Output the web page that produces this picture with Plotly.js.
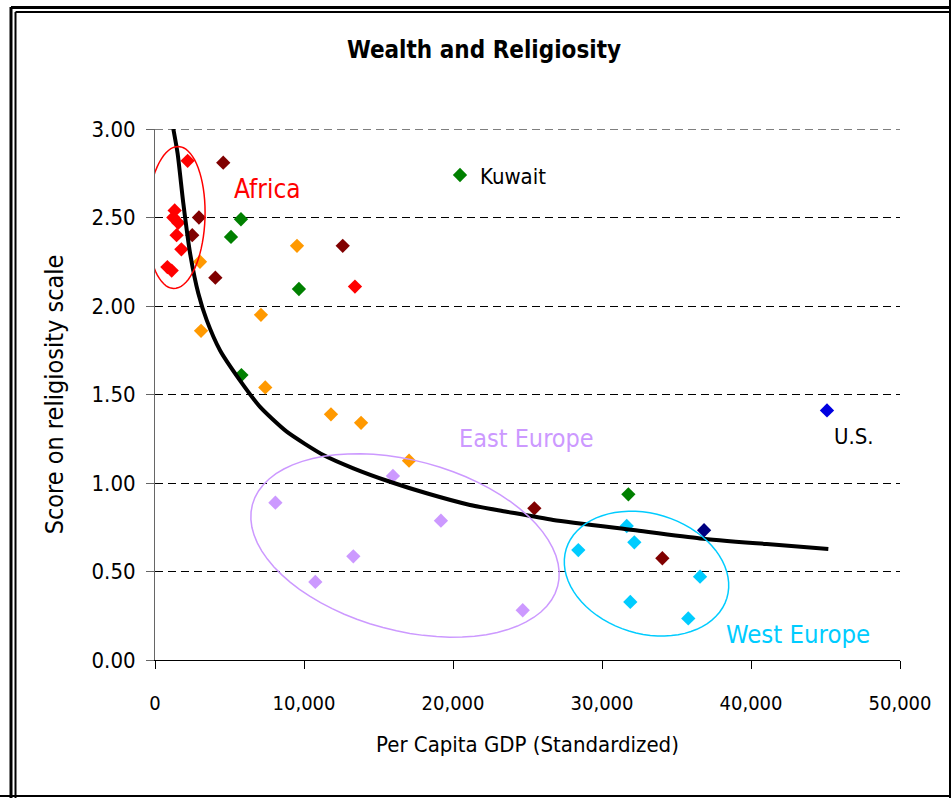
<!DOCTYPE html>
<html>
<head>
<meta charset="utf-8">
<script src="https://cdn.plot.ly/plotly-3.0.1.min.js"></script>
<style>
  html, body { margin: 0; padding: 0; background: #fff; }
  #chart { width: 951px; height: 798px; }
</style>
</head>
<body>
<div id="chart"></div>
<script>
// ---- Data ----
const africaX = [2190, 1320, 1230, 1560, 1450, 1770, 830, 1120, 13420];
const africaY = [2.82, 2.54, 2.50, 2.47, 2.40, 2.32, 2.22, 2.20, 2.11];

const maroonX = [4580, 2950, 2500, 4050, 12600, 25460, 34050];
const maroonY = [2.81, 2.50, 2.40, 2.16, 2.34, 0.857, 0.575];

const greenX = [20470, 5770, 5100, 9660, 5800, 31770];
const greenY = [2.74, 2.49, 2.39, 2.096, 1.61, 0.936];

const orangeX = [3020, 9530, 7110, 3090, 7400, 11810, 13830, 17050];
const orangeY = [2.25, 2.34, 1.95, 1.86, 1.54, 1.388, 1.34, 1.126];

const eastX = [15970, 8080, 19190, 13310, 10760, 24680];
const eastY = [1.04, 0.889, 0.787, 0.586, 0.441, 0.281];

const westX = [31660, 28410, 32170, 36580, 31900, 35790];
const westY = [0.757, 0.621, 0.665, 0.471, 0.328, 0.235];

const navyX = [36850];
const navyY = [0.733];

const usX = [45100];
const usY = [1.41];

// trend line (power curve)
const trendX = [1230, 1520, 1900, 2350, 2910, 3470, 4360, 5700, 7050, 8840, 11300, 13310, 15770, 18230, 21140, 23600, 26730, 32100, 36580, 41050, 45190];
const trendY = [3.0, 2.86, 2.58, 2.30, 2.07, 1.92, 1.75, 1.58, 1.43, 1.29, 1.158, 1.083, 1.007, 0.942, 0.876, 0.838, 0.791, 0.734, 0.687, 0.655, 0.627];

const xTickVals = [0, 10000, 20000, 30000, 40000, 50000];
const xTickText = ['0', '10,000', '20,000', '30,000', '40,000', '50,000'];
const yTickVals = [0, 0.5, 1, 1.5, 2, 2.5, 3];
const yTickText = ['0.00', '0.50', '1.00', '1.50', '2.00', '2.50', '3.00'];

// ---- Styling ----
const FONT = "Tahoma, 'DejaVu Sans Condensed', 'DejaVu Sans', sans-serif";
const W = 951, H = 798;
const L = 155, R = 900, T = 129, B = 660;

function mk(x, y, color) {
  return {
    x: x, y: y, type: 'scatter', mode: 'markers', showlegend: false, hoverinfo: 'skip',
    marker: { symbol: 'diamond', size: 11, color: color, line: { width: 0 } }
  };
}

const traces = [
  mk(africaX, africaY, '#FF0000'),
  mk(maroonX, maroonY, '#800000'),
  mk(greenX, greenY, '#008000'),
  mk(orangeX, orangeY, '#FF9900'),
  mk(eastX, eastY, '#CC99FF'),
  mk(westX, westY, '#00CCFF'),
  mk(navyX, navyY, '#000080'),
  mk(usX, usY, '#0000E0'),
  {
    x: trendX, y: trendY, type: 'scatter', mode: 'lines', showlegend: false, hoverinfo: 'skip',
    line: { color: '#000000', width: 4, shape: 'spline', smoothing: 0.6 }
  }
];

// ellipse path in pixel offsets (y up), a/b semi-axes, deg = clockwise tilt on screen
function ellipsePath(a, b, deg) {
  const th = deg * Math.PI / 180;
  const n = 72;
  let s = '';
  for (let i = 0; i <= n; i++) {
    const t = 2 * Math.PI * i / n;
    const ex = a * Math.cos(t), ey = b * Math.sin(t);
    const dx = ex * Math.cos(th) - ey * Math.sin(th);
    const dyScreen = ex * Math.sin(th) + ey * Math.cos(th);
    s += (i === 0 ? 'M' : 'L') + dx.toFixed(2) + ',' + (-dyScreen).toFixed(2);
  }
  return s + 'Z';
}
function ellipseShape(cx, cy, a, b, deg, color) {
  return {
    type: 'path', xref: 'x', yref: 'y', xsizemode: 'pixel', ysizemode: 'pixel',
    xanchor: cx, yanchor: cy, path: ellipsePath(a, b, deg),
    line: { color: color, width: 1.5 }, layer: 'above'
  };
}
function px2X(px) { return (px - L) / (R - L); }
function px2Y(py) { return (B - py) / (B - T); }
function frameLine(x0, y0, x1, y1, w, c) {
  return { type: 'line', xref: 'paper', yref: 'paper', x0: px2X(x0), y0: px2Y(y0), x1: px2X(x1), y1: px2Y(y1),
           line: { color: c, width: w }, layer: 'above' };
}

const shapes = [
  // top gridline at 3.00 (Plotly drops the grid line on the range edge)
  { type: 'line', xref: 'paper', yref: 'y', x0: 0, x1: 1, y0: 3, y1: 3,
    line: { color: '#000', width: 1, dash: '8px,5px' }, layer: 'below' },
  ellipseShape(1409, 2.50, 29, 71, 2, '#FF0000'),
  ellipseShape(16779, 0.647, 158, 85, 15, '#CC99FF'),
  ellipseShape(32987, 0.488, 84, 60, 17, '#00CCFF'),
  // frame
  frameLine(11, 7, 11, 798, 3, '#000'),
  frameLine(11, 7.5, 951, 7.5, 3, '#000'),
  frameLine(15.5, 12, 15.5, 798, 2, '#000'),
  frameLine(15.5, 12, 951, 12, 2, '#000'),
  frameLine(950, 0, 950, 798, 2, '#000'),
  frameLine(0, 796, 951, 796, 2, '#000')
];

const annotations = [
  { x: 7517, y: 2.66, xref: 'x', yref: 'y', text: 'Africa', showarrow: false, xanchor: 'center', yanchor: 'middle',
    font: { family: FONT, size: 26, color: '#FF0000' } },
  { x: 24899, y: 1.254, xref: 'x', yref: 'y', text: 'East Europe', showarrow: false, xanchor: 'center', yanchor: 'middle',
    font: { family: FONT, size: 25, color: '#CC99FF' } },
  { x: 43154, y: 0.147, xref: 'x', yref: 'y', text: 'West Europe', showarrow: false, xanchor: 'center', yanchor: 'middle',
    font: { family: FONT, size: 25.5, color: '#00CCFF' } },
  { x: 21678, y: 2.734, xref: 'x', yref: 'y', text: 'Kuwait', showarrow: false, xanchor: 'left', yanchor: 'middle',
    font: { family: FONT, size: 22, color: '#000' } },
  { x: 46913, y: 1.26, xref: 'x', yref: 'y', text: 'U.S.', showarrow: false, xanchor: 'center', yanchor: 'middle',
    font: { family: FONT, size: 22, color: '#000' } }
];

const layout = {
  width: W, height: H,
  margin: { l: L, r: W - R, t: T, b: H - B, pad: 0 },
  paper_bgcolor: '#ffffff', plot_bgcolor: '#ffffff',
  font: { family: FONT, size: 20, color: '#000' },
  title: { text: '<b>Wealth and Religiosity</b>', x: 484 / W, xref: 'container', xanchor: 'center',
           y: 1 - 50 / H, yref: 'container', yanchor: 'middle', font: { family: FONT, size: 24, color: '#000' } },
  xaxis: {
    range: [0, 50000], tickvals: xTickVals, ticktext: xTickText,
    showgrid: false, zeroline: false, showline: true, linecolor: '#000', linewidth: 1,
    ticks: 'outside', ticklen: 8, tickcolor: '#000', tickwidth: 1, ticklabelstandoff: 17,
    tickfont: { family: FONT, size: 20, color: '#000' },
    title: { text: 'Per Capita GDP (Standardized)', standoff: 22, font: { family: FONT, size: 22, color: '#000' } },
    automargin: false, fixedrange: true
  },
  yaxis: {
    range: [0, 3], tickvals: yTickVals, ticktext: yTickText,
    showgrid: true, gridcolor: '#000', gridwidth: 1, griddash: '8px,5px',
    zeroline: false, showline: true, linecolor: '#666', linewidth: 1,
    ticks: 'outside', ticklen: 8, tickcolor: '#666', tickwidth: 1, ticklabelstandoff: 6,
    tickfont: { family: FONT, size: 22, color: '#000' },
    title: { text: 'Score on religiosity scale', standoff: 20, font: { family: FONT, size: 25, color: '#000' } },
    automargin: false, fixedrange: true
  },
  shapes: shapes,
  annotations: annotations
};

Plotly.newPlot('chart', traces, layout, { displayModeBar: false, staticPlot: true });
</script>
</body>
</html>
